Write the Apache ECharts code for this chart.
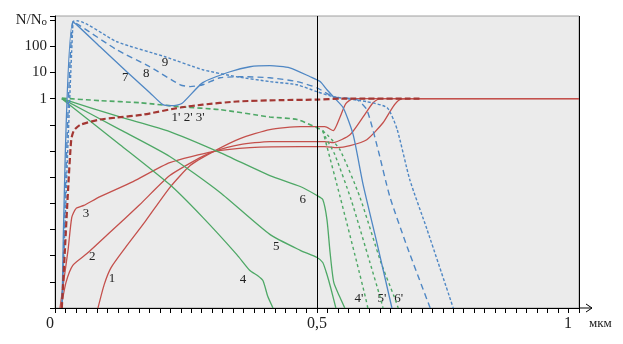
<!DOCTYPE html>
<html>
<head>
<meta charset="utf-8">
<script src="https://cdn.jsdelivr.net/npm/echarts@6/dist/echarts.min.js"></script>
<style>
  html, body { margin: 0; padding: 0; background: #fff; }
  #chart { width: 623px; height: 344px; }
</style>
</head>
<body>
<div id="chart"></div>
<script>
// N/No against depth x (мкм); points are [x, N/No]
// red solid 1, 2, 3
var red1 = [[0.082, 1e-8], [0.094, 8e-8], [0.107, 3.5e-7], [0.134, 2e-6], [0.172, 2e-5], [0.219, 4e-4],
  [0.258, 2.8e-3], [0.302, 9.5e-3], [0.353, 0.03], [0.41, 0.066], [0.468, 0.085], [0.515, 0.085],
  [0.531, 0.06], [0.544, 0.2], [0.555, 0.65], [0.569, 1], [1.0, 1]];
var red2 = [[0.0115, 1e-8], [0.021, 9.5e-8], [0.034, 4.3e-7], [0.061, 1.2e-6], [0.105, 7.8e-6], [0.162, 9e-5],
  [0.219, 1.15e-3], [0.277, 5.6e-3], [0.302, 9.5e-3], [0.353, 0.0175], [0.41, 0.023], [0.515, 0.023],
  [0.531, 0.021], [0.563, 0.042], [0.588, 0.2], [0.607, 0.7], [0.62, 1], [1.0, 1]];
var red3 = [[0.0095, 1e-8], [0.017, 1.2e-7], [0.025, 1.7e-6], [0.032, 2.9e-5], [0.04, 6.3e-5], [0.055, 8.3e-5],
  [0.086, 1.8e-4], [0.149, 6.8e-4], [0.219, 3.6e-3], [0.302, 9.5e-3], [0.372, 0.0135], [0.468, 0.0148],
  [0.515, 0.0148], [0.538, 0.0135], [0.563, 0.016], [0.595, 0.027], [0.626, 0.12], [0.645, 0.49],
  [0.658, 0.92], [0.677, 1], [1.0, 1]];
// red dashed 1' 2' 3'
var redDash = [[0.013, 1e-8], [0.019, 1.8e-6], [0.025, 3.4e-4], [0.031, 0.027], [0.036, 0.06], [0.048, 0.1],
  [0.086, 0.16], [0.118, 0.19], [0.168, 0.245], [0.239, 0.46], [0.282, 0.59], [0.347, 0.78],
  [0.429, 0.88], [0.5, 0.92], [0.544, 1], [0.697, 1]];
// green solid 4, 5, 6
var green4 = [[0.013, 1], [0.124, 0.0175], [0.219, 5.2e-4], [0.282, 2.9e-5], [0.347, 1.1e-6], [0.372, 2.7e-7],
  [0.387, 1.7e-7], [0.397, 1.1e-7], [0.406, 2.8e-8], [0.416, 1e-8]];
var green5 = [[0.013, 1], [0.124, 0.066], [0.219, 6.2e-3], [0.315, 2.6e-4], [0.41, 6.5e-6], [0.468, 1.6e-6],
  [0.5, 8.5e-7], [0.511, 5.5e-7], [0.519, 1.9e-7], [0.527, 5.1e-8], [0.536, 1e-8]];
var green6 = [[0.013, 1], [0.124, 0.2], [0.219, 0.055], [0.315, 8.7e-3], [0.41, 1.15e-3], [0.468, 4.4e-4],
  [0.5, 2e-4], [0.511, 1.4e-4], [0.519, 2.4e-5], [0.525, 1.3e-6], [0.532, 9.5e-8], [0.544, 2.5e-8], [0.553, 1e-8]];
// green dashed 4', 5', 6' (common start, then split)
var greenDashHead = [[0.013, 1.05], [0.086, 0.84], [0.162, 0.7], [0.239, 0.49], [0.315, 0.38], [0.41, 0.2],
  [0.462, 0.16], [0.5, 0.078], [0.511, 0.06]];
var green4d = [[0.511, 0.06], [0.519, 0.0148], [0.544, 1.8e-4], [0.576, 5.5e-7], [0.592, 2.8e-8], [0.597, 1e-8]];
var green5d = [[0.511, 0.06], [0.517, 0.032], [0.534, 7.3e-3], [0.565, 1.4e-4], [0.601, 5.5e-7], [0.62, 2.8e-8], [0.626, 1e-8]];
var green6d = [[0.511, 0.06], [0.521, 0.039], [0.544, 0.011], [0.582, 1.7e-4], [0.622, 5.5e-7], [0.647, 2.8e-8], [0.655, 1e-8]];
// blue 7 (solid), 8 and 9 (dashed)
var blue7 = [[0.0134, 1e-8], [0.0344, 870], [0.086, 96], [0.137, 10.7], [0.181, 1.7], [0.206, 0.59],
  [0.223, 0.54], [0.242, 0.65], [0.282, 4.1], [0.334, 10.7], [0.372, 16.6], [0.41, 18.2], [0.448, 15.2],
  [0.487, 6.9], [0.506, 4.5], [0.519, 2.2], [0.531, 1.19], [0.55, 0.45], [0.569, 0.042], [0.588, 5.2e-4],
  [0.615, 2.7e-6], [0.643, 1e-8]];
var blue8 = [[0.0134, 1e-8], [0.0344, 870], [0.048, 610], [0.118, 74], [0.181, 16.6], [0.239, 3.4],
  [0.258, 2.9], [0.282, 3.4], [0.315, 6.3], [0.359, 6.9], [0.41, 6.3], [0.462, 4.5], [0.5, 2.6],
  [0.531, 1.19], [0.576, 0.92], [0.595, 0.38], [0.615, 0.0148], [0.639, 1.8e-4], [0.672, 2.2e-6], [0.716, 1e-8]];
var blue9 = [[0.0134, 1e-8], [0.0344, 870], [0.042, 950], [0.118, 150], [0.21, 40], [0.282, 12.8],
  [0.347, 6.9], [0.41, 4.5], [0.462, 3.4], [0.5, 1.85], [0.531, 1.19], [0.595, 0.77], [0.634, 0.45],
  [0.653, 0.066], [0.677, 8.1e-4], [0.71, 1e-5], [0.76, 1e-8]];

// y tick labels (only these decades are labelled)
var yTickLabels = { '0': '1', '1': '10', '2': '100', '3': '{n|N/N}{s|o}' };
// curve number labels, anchored in data coordinates
var curveLabels = [
  { text: '1', x: 0.109, y: 1.35e-7 }, { text: '2', x: 0.071, y: 9.3e-7 }, { text: '3', x: 0.059, y: 4.1e-5 },
  { text: '4', x: 0.359, y: 1.2e-7 }, { text: '5', x: 0.422, y: 2.2e-6 }, { text: '6', x: 0.473, y: 1.4e-4 },
  { text: '7', x: 0.134, y: 6.3 }, { text: '8', x: 0.174, y: 9 }, { text: '9', x: 0.21, y: 23.7 },
  { text: "1' 2' 3'", x: 0.254, y: 0.19 },
  { text: "4'", x: 0.58, y: 2.3e-8 }, { text: "5'", x: 0.624, y: 2.3e-8 }, { text: "6'", x: 0.656, y: 2.3e-8 }
];

var FONT = '"Liberation Serif", "DejaVu Serif", serif';
var RED = '#c4504c', RED_D = '#a33733', GREEN = '#4ea866', BLUE = '#4f87c4';

function line(data, color, width, type, extra) {
  var s = {
    type: 'line', data: data, showSymbol: false, symbol: 'none', smooth: 0.2,
    lineStyle: { color: color, width: width, type: type }, silent: true
  };
  if (extra) for (var k in extra) s[k] = extra[k];
  return s;
}

var chart = echarts.init(document.getElementById('chart'));
chart.setOption({
  animation: false,
  backgroundColor: '#fff',
  grid: {
    left: 55, right: 44, top: 16, bottom: 36, show: true,
    backgroundColor: '#ebebeb', borderColor: '#a0a0a0', borderWidth: 1
  },
  xAxis: {
    type: 'value', min: 0, max: 1, interval: 0.02,
    axisLine: { show: true, onZero: false, lineStyle: { color: '#000', width: 1 } },
    axisTick: { show: true, inside: false, length: 5, interval: 0, lineStyle: { color: '#000', width: 1 } },
    splitLine: { show: false },
    name: 'мкм', nameLocation: 'end', nameGap: 10,
    nameTextStyle: { fontFamily: FONT, fontSize: 13, color: '#222', verticalAlign: 'top', padding: [9, 0, 0, 0] },
    axisLabel: {
      interval: 0, margin: 8, fontFamily: FONT, fontSize: 16, color: '#222',
      formatter: function (v) {
        if (Math.abs(v) < 1e-6) return '{z|0}';
        if (Math.abs(v - 0.5) < 1e-6) return '0,5';
        if (Math.abs(v - 1) < 1e-6) return '{o|1}';
        return '';
      },
      rich: {
        z: { fontFamily: FONT, fontSize: 16, color: '#222', padding: [0, 10, 0, 0] },
        o: { fontFamily: FONT, fontSize: 16, color: '#222', padding: [0, 22, 0, 0] }
      }
    }
  },
  yAxis: {
    type: 'log', logBase: 10, min: 1e-8, max: 1445, interval: 1,
    axisLine: { show: true, lineStyle: { color: '#000', width: 1 } },
    axisTick: { show: true, inside: false, length: 5, lineStyle: { color: '#000', width: 1 } },
    splitLine: { show: false },
    axisLabel: {
      margin: 8, fontFamily: FONT, fontSize: 15, color: '#222',
      formatter: function (v) {
        var e = Math.log10(v), r = Math.round(e);
        if (Math.abs(e - r) > 1e-6) return '';
        return yTickLabels[String(r)] || '';
      },
      rich: {
        n: { fontFamily: FONT, fontSize: 15, color: '#222' },
        s: { fontFamily: FONT, fontSize: 11, color: '#222', padding: [4, 0, 0, 0] }
      }
    }
  },
  series: [
    line(red1, RED, 1.3, 'solid', {
      markLine: {
        silent: true, symbol: ['none', 'none'], label: { show: false },
        lineStyle: { color: '#000', type: 'solid', width: 1 },
        data: [{ xAxis: 0.5 }, { xAxis: 1 }]
      }
    }),
    line(red2, RED, 1.3, 'solid'),
    line(red3, RED, 1.3, 'solid'),
    line(green4, GREEN, 1.3, 'solid'),
    line(green5, GREEN, 1.3, 'solid'),
    line(green6, GREEN, 1.3, 'solid'),
    line(greenDashHead, GREEN, 1.6, [5, 3]),
    line(green4d, GREEN, 1.4, [3, 3]),
    line(green5d, GREEN, 1.4, [3, 3]),
    line(green6d, GREEN, 1.4, [3, 3]),
    line(blue7, BLUE, 1.3, 'solid'),
    line(blue8, BLUE, 1.4, [6, 4]),
    line(blue9, BLUE, 1.4, [3, 2]),
    line(redDash, RED_D, 2.2, [6, 3])
  ]
});

// curve labels and axis arrows, placed through the chart's own coordinate system
function px(x, y) { return chart.convertToPixel({ gridIndex: 0 }, [x, y]); }
var graphics = curveLabels.map(function (c) {
  var p = px(c.x, c.y);
  return {
    type: 'text', x: p[0], y: p[1], silent: true,
    style: { text: c.text, font: '13px ' + FONT, fill: '#222', align: 'center', verticalAlign: 'middle' }
  };
});
var top = px(0, 1445), right = px(1, 1e-8);
graphics.push(
  { type: 'polyline', silent: true, shape: { points: [[top[0], top[1]], [top[0], top[1] - 12]] }, style: { stroke: '#000', lineWidth: 1 } },
  { type: 'polyline', silent: true, shape: { points: [[top[0] - 4, top[1] - 6], [top[0], top[1] - 12], [top[0] + 4, top[1] - 6]] }, style: { stroke: '#000', lineWidth: 1, fill: null } },
  { type: 'polyline', silent: true, shape: { points: [[right[0], right[1]], [right[0] + 13, right[1]]] }, style: { stroke: '#000', lineWidth: 1 } },
  { type: 'polyline', silent: true, shape: { points: [[right[0] + 7, right[1] - 4], [right[0] + 13, right[1]], [right[0] + 7, right[1] + 4]] }, style: { stroke: '#000', lineWidth: 1, fill: null } }
);
chart.setOption({ graphic: graphics });
</script>
</body>
</html>
